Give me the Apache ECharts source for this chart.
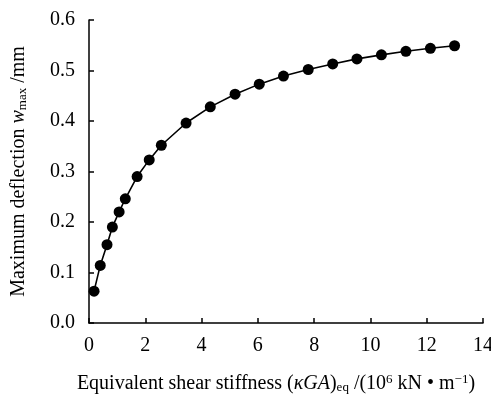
<!DOCTYPE html>
<html>
<head>
<meta charset="utf-8">
<script src="https://cdn.jsdelivr.net/npm/echarts@6/dist/echarts.min.js"></script>
<style>
  html, body { margin: 0; padding: 0; background: #fff; }
  #chart { width: 491px; height: 394px; }
</style>
</head>
<body>
<div id="chart"></div>
<script>
// Equivalent shear stiffness (10^6 kN/m)
var stiffness = [0.18, 0.40, 0.64, 0.83, 1.07, 1.29, 1.71, 2.14, 2.57, 3.45, 4.31, 5.19,
                 6.05, 6.91, 7.79, 8.66, 9.52, 10.39, 11.26, 12.13, 12.99];
// Maximum deflection (mm)
var deflection = [0.063, 0.114, 0.155, 0.190, 0.220, 0.246, 0.290, 0.323, 0.352, 0.396, 0.428, 0.453,
                  0.473, 0.489, 0.502, 0.513, 0.523, 0.531, 0.538, 0.544, 0.549];

var points = stiffness.map(function (x, i) { return [x, deflection[i]]; });

var FONT = '"Liberation Serif", "Times New Roman", serif';

var chart = echarts.init(document.getElementById('chart'), null, { renderer: 'canvas' });
chart.setOption({
  backgroundColor: '#fff',
  animation: false,
  grid: { left: 89, right: 8, top: 20, bottom: 71, containLabel: false, outerBoundsMode: 'none' },
  xAxis: {
    type: 'value',
    min: 0, max: 14, interval: 2,
    axisLine: { lineStyle: { color: '#000', width: 1.5 } },
    axisTick: { inside: true, length: 5, lineStyle: { color: '#000', width: 1.5 } },
    axisLabel: { color: '#000', fontFamily: FONT, fontSize: 20, margin: 13 },
    splitLine: { show: false },
    name: '{t|Equivalent shear stiffness (}{i|κGA}{t|)}{sub|eq}{t| /(10}{sup|6}{t| kN • m}{sup|−1}{t|)}',
    nameLocation: 'middle',
    nameGap: 50,
    nameTextStyle: {
      color: '#000', fontFamily: FONT, fontSize: 20,
      padding: [0, 20, 0, 0],
      rich: {
        t: { fontFamily: FONT, fontSize: 20, color: '#000' },
        i: { fontFamily: FONT, fontSize: 20, fontStyle: 'italic', color: '#000' },
        sub: { fontFamily: FONT, fontSize: 13, color: '#000', padding: [8, 0, 0, 0] },
        sup: { fontFamily: FONT, fontSize: 13, color: '#000', padding: [0, 0, 7, 0] }
      }
    }
  },
  yAxis: {
    type: 'value',
    min: 0, max: 0.6, interval: 0.1,
    axisLine: { show: true, lineStyle: { color: '#000', width: 1.5 } },
    axisTick: { show: true, inside: true, length: 5, lineStyle: { color: '#000', width: 1.5 } },
    axisLabel: {
      color: '#000', fontFamily: FONT, fontSize: 20, margin: 14,
      formatter: function (v) { return v.toFixed(1); }
    },
    splitLine: { show: false },
    name: '{t|Maximum deflection }{i|w}{sub|max}{t| /mm}',
    nameLocation: 'middle',
    nameRotate: 90,
    nameGap: 60,
    nameTextStyle: {
      color: '#000', fontFamily: FONT, fontSize: 20,
      rich: {
        t: { fontFamily: FONT, fontSize: 20, color: '#000' },
        i: { fontFamily: FONT, fontSize: 20, fontStyle: 'italic', color: '#000' },
        sub: { fontFamily: FONT, fontSize: 13, color: '#000', padding: [8, 0, 0, 0] }
      }
    }
  },
  series: [{
    type: 'line',
    data: points,
    symbol: 'circle',
    symbolSize: 11,
    lineStyle: { color: '#000', width: 1.6 },
    itemStyle: { color: '#000' }
  }]
});
</script>
</body>
</html>
